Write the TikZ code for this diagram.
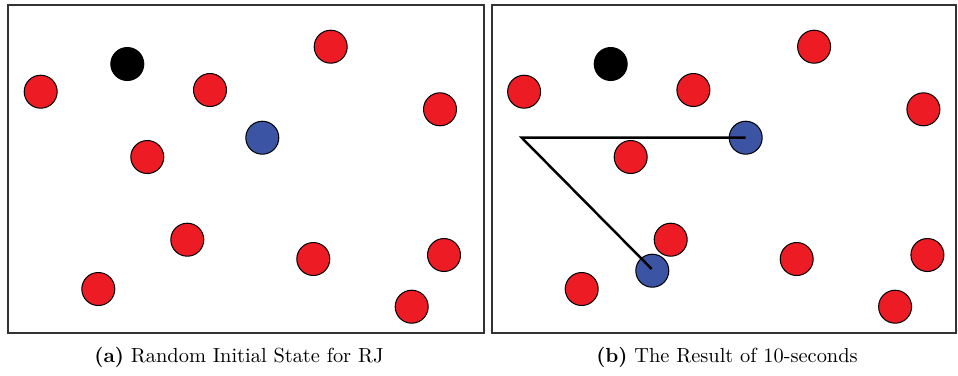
\documentclass[tikz,border=0pt]{standalone}
\begin{document}
\begin{tikzpicture}[x=0.49pt,y=-0.49pt,
  ball/.style={circle,draw=black,line width=0.5pt,minimum size=33*0.49pt,inner sep=0pt},
  redball/.style={ball,fill=ballred},
  blueball/.style={ball,fill=ballblue},
  blackball/.style={ball,fill=black},
  frame/.style={draw=black!80,line width=0.8pt},
  track/.style={draw=black,line width=1.2pt}]
\definecolor{ballred}{HTML}{ED1C24}
\definecolor{ballblue}{HTML}{3B54A4}
\useasboundingbox (0,0) rectangle (958,375);
% left panel
\draw[frame] (8,5) rectangle (484,333);
\foreach \x/\y/\n in {40.7/91.7/1,210/90/2,330.7/46.7/3,440/109.3/4,147.3/157/5,187.3/239.7/6,313.3/259/7,444/255/8,98.3/289/9,411.7/306.7/10}
  \node[redball] (la\n) at (\x,\y) {};
\node[blackball] (lk) at (127.3,64) {};
\node[blueball] (lb) at (262.3,137.7) {};
% right panel
\draw[frame] (492,5) rectangle (956,333);
\foreach \x/\y/\n in {40.7/91.7/1,210/90/2,330.7/46.7/3,440/109.3/4,147.3/157/5,187.3/239.7/6,313.3/259/7,444/255/8,98.3/289/9,411.7/306.7/10}
  \node[redball] (ra\n) at (\x+483.4,\y) {};
\node[blackball] (rk) at (610.7,64) {};
\node[blueball] (rb1) at (745.7,137.7) {};
\node[blueball] (rb2) at (652.3,270.7) {};
\coordinate (v) at (521.7,137.7);
\draw[track,line join=miter] (rb1.center) -- (v) -- (651.7,269);
% captions
\node[anchor=base] (ca) at (239,362) {\textbf{(a)} Random Initial State for RJ};
\node[anchor=base] (cb) at (727,362) {\textbf{(b)} The Result of 10-seconds};
\end{tikzpicture}
\end{document}
